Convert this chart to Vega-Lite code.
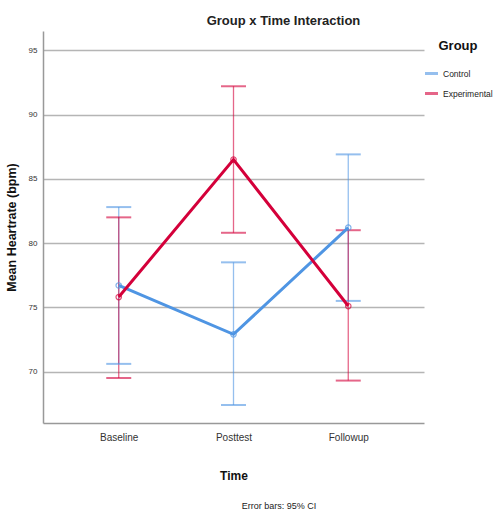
{
  "$schema": "https://vega.github.io/schema/vega-lite/v6.json",
  "background": "white",
  "padding": {"left": 5, "top": 15, "right": 0, "bottom": 0},
  "title": {"text": "Error bars: 95% CI", "orient": "bottom", "anchor": "middle", "fontSize": 9, "fontWeight": "normal", "font": "Liberation Sans", "color": "#222", "offset": 21, "dx": 30},
  "vconcat": [
    {
      "width": 381,
      "height": 392,
      "title": {"text": "Group x Time Interaction", "anchor": "middle", "fontSize": 13, "fontWeight": "bold", "font": "Liberation Sans", "color": "#222", "offset": 3, "dx": 50},
      "data": {"values": [
        {"time": "Baseline", "group": "Control", "mean": 76.7, "lo": 70.6, "hi": 82.8},
        {"time": "Posttest", "group": "Control", "mean": 72.9, "lo": 67.4, "hi": 78.5},
        {"time": "Followup", "group": "Control", "mean": 81.2, "lo": 75.5, "hi": 86.9},
        {"time": "Baseline", "group": "Experimental", "mean": 75.8, "lo": 69.5, "hi": 82.0},
        {"time": "Posttest", "group": "Experimental", "mean": 86.5, "lo": 80.8, "hi": 92.2},
        {"time": "Followup", "group": "Experimental", "mean": 75.1, "lo": 69.3, "hi": 81.0}
      ]},
      "encoding": {
        "x": {"field": "time", "type": "ordinal", "sort": ["Baseline", "Posttest", "Followup"],
              "scale": {"type": "point", "padding": 0.66},
              "axis": {"title": "Time", "labelAngle": 0, "ticks": false, "labelPadding": 9, "titlePadding": 28, "domainColor": "#999", "domainWidth": 1.5}},
        "color": {"field": "group", "type": "nominal",
                  "scale": {"domain": ["Control", "Experimental"], "range": ["#4f95e3", "#d4003a"]},
                  "legend": {"title": "Group", "orient": "none", "legendX": 380, "legendY": 9, "symbolType": "stroke", "symbolStrokeWidth": 3, "symbolSize": 170, "labelFontSize": 8.5, "labelOffset": 3, "titleFontSize": 13, "titlePadding": 12, "rowPadding": 5, "labelLimit": 60, "titleAnchor": "middle"}}
      },
      "layer": [
        {
          "mark": {"type": "rule", "strokeWidth": 1.3, "opacity": 0.6},
          "encoding": {"y": {"field": "lo", "type": "quantitative"}, "y2": {"field": "hi"}}
        },
        {
          "mark": {"type": "tick", "size": 25, "thickness": 2, "opacity": 0.6},
          "encoding": {"y": {"field": "lo", "type": "quantitative"}}
        },
        {
          "mark": {"type": "tick", "size": 25, "thickness": 2, "opacity": 0.6},
          "encoding": {"y": {"field": "hi", "type": "quantitative"}}
        },
        {
          "mark": {"type": "line", "strokeWidth": 3},
          "encoding": {"y": {"field": "mean", "type": "quantitative",
                             "scale": {"domain": [66, 96.5], "nice": false, "zero": false},
                             "axis": {"title": "Mean Heartrate (bpm)", "values": [70, 75, 80, 85, 90, 95], "ticks": false, "labelFontSize": 8, "labelPadding": 6, "titlePadding": 10, "titleFontSize": 12.5, "grid": true, "gridColor": "#b5b5b5", "gridWidth": 1.3, "domainColor": "#999", "domainWidth": 1.5}}}
        },
        {
          "mark": {"type": "point", "shape": "circle", "filled": false, "size": 30, "strokeWidth": 1.2, "opacity": 0.7},
          "encoding": {"y": {"field": "mean", "type": "quantitative"}}
        }
      ]
    }
  ],
  "config": {
    "font": "Liberation Sans",
    "view": {"stroke": null},
    "axis": {"labelFont": "Liberation Sans", "labelColor": "#333", "labelFontSize": 10, "titleFont": "Liberation Sans", "titleFontSize": 12, "titleFontWeight": "bold", "titleColor": "#111", "grid": false},
    "legend": {"labelFont": "Liberation Sans", "titleFont": "Liberation Sans", "labelColor": "#222", "titleColor": "#111"}
  }
}
